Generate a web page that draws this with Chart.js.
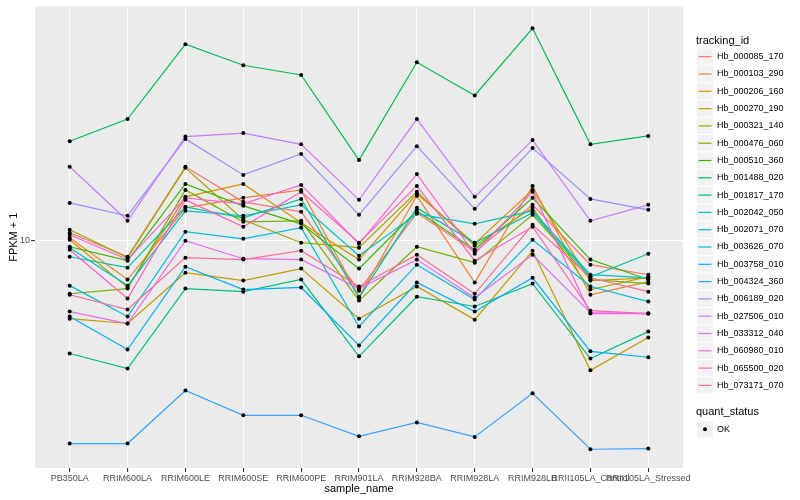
<!DOCTYPE html>
<html>
<head>
<meta charset="utf-8">
<script src="https://cdn.jsdelivr.net/npm/chart.js@4/dist/chart.umd.min.js"></script>
<style>
  html, body { margin: 0; padding: 0; background: #ffffff; }
  #chart { display: block; }
</style>
</head>
<body>
<canvas id="chart" width="800" height="500"></canvas>
<script>
// Categories on the x axis.
var sampleNames = [
  'PB350LA', 'RRIM600LA', 'RRIM600LE', 'RRIM600SE', 'RRIM600PE', 'RRIM901LA',
  'RRIM928BA', 'RRIM928LA', 'RRIM928LB', 'RRII105LA_Control', 'RRII105LA_Stressed'
];

var trackingIds = [
  'Hb_000085_170', 'Hb_000103_290', 'Hb_000206_160', 'Hb_000270_190', 'Hb_000321_140',
  'Hb_000476_060', 'Hb_000510_360', 'Hb_001488_020', 'Hb_001817_170', 'Hb_002042_050',
  'Hb_002071_070', 'Hb_003626_070', 'Hb_003758_010', 'Hb_004324_360', 'Hb_006189_020',
  'Hb_027506_010', 'Hb_033312_040', 'Hb_060980_010', 'Hb_065500_020', 'Hb_073171_070'
];

// FPKM + 1, one value per sample.
var hb_000085_170 = [10.64, 8.84, 17.67, 13.49, 12.49, 6.81, 12.40, 9.19, 13.18, 8.32, 7.70];
var hb_000103_290 = [10.23, 7.42, 12.88, 13.91, 14.79, 6.50, 14.13, 7.25, 15.25, 6.60, 7.30];
var hb_000206_160 = [10.08, 6.98, 14.02, 15.49, 11.48, 8.65, 14.35, 9.77, 14.79, 7.36, 7.52];
var hb_000270_190 = [5.49, 5.29, 7.82, 7.36, 8.07, 5.49, 7.03, 5.45, 9.26, 3.69, 4.75];
var hb_000321_140 = [10.88, 8.78, 17.53, 11.75, 9.85, 9.48, 14.57, 9.62, 12.88, 6.87, 7.58];
var hb_000476_060 = [6.65, 6.92, 14.79, 11.57, 11.66, 6.31, 9.55, 8.45, 12.21, 7.42, 7.19];
var hb_000510_360 = [9.55, 8.58, 15.49, 13.08, 11.39, 8.07, 12.59, 9.33, 13.91, 8.65, 7.42];
var hb_001488_020 = [21.5, 25.5, 45.4, 38.6, 35.8, 18.6, 39.5, 30.6, 51.3, 21.0, 22.4];
var hb_001817_170 = [4.20, 3.74, 6.92, 6.76, 7.42, 4.11, 6.50, 6.03, 7.19, 4.04, 4.97];
var hb_002042_050 = [8.84, 8.13, 12.98, 11.93, 13.80, 6.45, 12.88, 9.85, 12.40, 7.58, 9.05];
var hb_002071_070 = [9.48, 7.08, 12.59, 12.12, 13.18, 8.91, 12.30, 11.39, 12.59, 7.70, 7.52];
var hb_003626_070 = [7.08, 5.58, 10.72, 10.15, 11.05, 5.17, 8.32, 6.36, 10.08, 7.03, 6.26];
var hb_003758_010 = [5.58, 4.33, 8.19, 6.87, 6.98, 4.47, 7.25, 5.80, 7.52, 4.27, 4.08];
var hb_004324_360 = [2.10, 2.10, 3.16, 2.61, 2.61, 2.22, 2.47, 2.21, 3.09, 2.01, 2.02];
var hb_006189_020 = [13.38, 12.12, 21.9, 16.6, 19.5, 12.21, 20.7, 12.78, 20.4, 13.80, 12.69];
var hb_027506_010 = [17.67, 11.66, 22.3, 22.9, 21.0, 13.70, 25.5, 14.02, 21.7, 11.66, 13.18];
var hb_033312_040 = [5.80, 5.29, 10.0, 8.71, 8.65, 6.92, 8.65, 6.45, 8.98, 5.75, 5.71];
var hb_060980_010 = [10.47, 8.65, 13.91, 13.28, 15.37, 9.77, 16.7, 9.05, 14.57, 5.71, 5.71];
var hb_065500_020 = [9.33, 6.41, 13.70, 11.14, 14.57, 9.85, 15.25, 8.58, 11.14, 5.84, 5.71];
var hb_073171_070 = [6.60, 5.89, 8.78, 8.65, 9.26, 7.03, 8.98, 6.65, 11.31, 7.52, 6.76];

var seriesValues = [
  hb_000085_170, hb_000103_290, hb_000206_160, hb_000270_190, hb_000321_140,
  hb_000476_060, hb_000510_360, hb_001488_020, hb_001817_170, hb_002042_050,
  hb_002071_070, hb_003626_070, hb_003758_010, hb_004324_360, hb_006189_020,
  hb_027506_010, hb_033312_040, hb_060980_010, hb_065500_020, hb_073171_070
];

var yTickValues = [10];
var quantStatus = ['OK'];

// ggplot default hue palette for 20 groups.
var hueColors = [
  '#F8766D', '#EA8331', '#D89000', '#C09B00', '#A3A500',
  '#7CAE00', '#39B600', '#00BB4E', '#00BF7D', '#00C1A3',
  '#00BFC4', '#00BAE0', '#00B0F6', '#35A2FF', '#9590FF',
  '#C77CFF', '#E76BF3', '#FA62DB', '#FF62BC', '#FF6C91'
];

var fontFamily = '"Liberation Sans", Arial, sans-serif';

/**
 * Turn one series into {x, y} points on the numeric sample axis.
 */
function toPoints(values) {
  return values.map(function (v, i) {
    return { x: i, y: v };
  });
}

/**
 * Lines first (drawn under), then black points on top of everything.
 */
function buildDatasets() {
  var lines = seriesValues.map(function (values, i) {
    return {
      label: trackingIds[i],
      data: toPoints(values),
      borderColor: hueColors[i],
      borderWidth: 1.2,
      pointRadius: 0,
      pointHoverRadius: 0,
      fill: false,
      tension: 0,
      order: 100 - i
    };
  });
  var points = seriesValues.map(function (values, i) {
    return {
      label: trackingIds[i] + ' ' + quantStatus[0],
      data: toPoints(values),
      showLine: false,
      pointRadius: 2,
      pointBorderWidth: 0,
      pointBackgroundColor: '#000000',
      order: 0
    };
  });
  return lines.concat(points);
}

// Grey panel behind the grid.
var panelPlugin = {
  id: 'panel',
  beforeDraw: function (chart) {
    var a = chart.chartArea;
    var ctx = chart.ctx;
    ctx.save();
    ctx.fillStyle = '#FFFFFF';
    ctx.fillRect(0, 0, chart.width, chart.height);
    ctx.fillStyle = '#EBEBEB';
    ctx.fillRect(a.left, a.top, a.right - a.left, a.bottom - a.top);
    ctx.restore();
  }
};

// ggplot-like legends on the right.
var legendPlugin = {
  id: 'ggLegend',
  afterDraw: function (chart) {
    var ctx = chart.ctx;
    var left = 697;
    var step = 17.3;
    var firstY = 56.7;
    ctx.save();
    ctx.textBaseline = 'middle';
    ctx.textAlign = 'left';
    ctx.fillStyle = '#000000';
    ctx.font = '11px ' + fontFamily;
    ctx.fillText('tracking_id', left - 1, 41);

    trackingIds.forEach(function (id, i) {
      var cy = firstY + i * step;
      ctx.fillStyle = '#F2F2F2';
      ctx.fillRect(left, cy - step / 2 + 0.5, 16, step - 1);
      ctx.strokeStyle = hueColors[i];
      ctx.lineWidth = 1.2;
      ctx.beginPath();
      ctx.moveTo(left + 1.5, cy);
      ctx.lineTo(left + 14.5, cy);
      ctx.stroke();
      ctx.fillStyle = '#000000';
      ctx.font = '9px ' + fontFamily;
      ctx.fillText(id, left + 20, cy);
    });

    ctx.font = '11px ' + fontFamily;
    ctx.fillText('quant_status', left - 1, 412);
    quantStatus.forEach(function (status, i) {
      var cy = 429.3 + i * step;
      ctx.fillStyle = '#F2F2F2';
      ctx.fillRect(left, cy - step / 2 + 0.5, 16, step - 1);
      ctx.fillStyle = '#000000';
      ctx.beginPath();
      ctx.arc(left + 8, cy, 2, 0, Math.PI * 2);
      ctx.fill();
      ctx.font = '9px ' + fontFamily;
      ctx.fillText(status, left + 20, cy);
    });
    ctx.restore();
  }
};

var chart = new Chart(document.getElementById('chart'), {
  type: 'line',
  data: { datasets: buildDatasets() },
  plugins: [panelPlugin, legendPlugin],
  options: {
    responsive: false,
    animation: false,
    devicePixelRatio: 1,
    layout: { padding: { left: 0, right: 117, top: 5, bottom: 0 } },
    plugins: {
      legend: { display: false },
      tooltip: { enabled: false }
    },
    scales: {
      x: {
        type: 'linear',
        min: -0.6,
        max: 10.6,
        afterBuildTicks: function (scale) {
          scale.ticks = sampleNames.map(function (n, i) {
            return { value: i };
          });
        },
        afterFit: function (scale) {
          scale.height = 32;
        },
        ticks: {
          autoSkip: false,
          maxRotation: 0,
          minRotation: 0,
          padding: 1,
          color: '#4D4D4D',
          font: { family: fontFamily, size: 9 },
          callback: function (value) {
            return sampleNames[value];
          }
        },
        grid: {
          color: '#FFFFFF',
          lineWidth: 1.1,
          tickColor: '#333333',
          tickLength: 4
        },
        border: { display: false },
        title: {
          display: true,
          text: 'sample_name',
          color: '#000000',
          font: { family: fontFamily, size: 11 },
          padding: { top: 0, bottom: 4 }
        }
      },
      y: {
        type: 'logarithmic',
        min: 1.74,
        max: 60.7,
        afterBuildTicks: function (scale) {
          scale.ticks = yTickValues.map(function (v) {
            return { value: v };
          });
        },
        afterFit: function (scale) {
          scale.width = 35;
        },
        ticks: {
          padding: 1,
          color: '#4D4D4D',
          font: { family: fontFamily, size: 9 },
          callback: function (value) {
            return String(value);
          }
        },
        grid: {
          color: '#FFFFFF',
          lineWidth: 1.1,
          tickColor: '#333333',
          tickLength: 4
        },
        border: { display: false },
        title: {
          display: true,
          text: 'FPKM + 1',
          color: '#000000',
          font: { family: fontFamily, size: 11 },
          padding: { top: 7, bottom: 0 }
        }
      }
    }
  }
});
</script>
</body>
</html>
